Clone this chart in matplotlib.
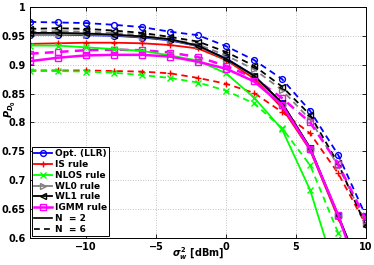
"""Detection probability versus noise power for several decision rules."""

import matplotlib

matplotlib.use("Agg")

import matplotlib.pyplot as plt
from matplotlib.lines import Line2D

noise_dbm = [-14, -12, -10, -8, -6, -4, -2, 0, 2, 4, 6, 8, 10]

# N = 6 (dashed)
opt_n6 = [0.974, 0.973, 0.972, 0.969, 0.965, 0.957, 0.951, 0.932, 0.908, 0.875, 0.820, 0.744, 0.637]
is_n6 = [0.890, 0.890, 0.890, 0.889, 0.888, 0.885, 0.877, 0.867, 0.851, 0.818, 0.781, 0.712, 0.622]
nlos_n6 = [0.889, 0.889, 0.888, 0.886, 0.882, 0.877, 0.869, 0.855, 0.833, 0.790, 0.726, 0.609, 0.480]
wl0_n6 = [0.957, 0.958, 0.957, 0.955, 0.951, 0.944, 0.935, 0.916, 0.892, 0.856, 0.805, 0.725, 0.625]
wl1_n6 = [0.962, 0.963, 0.962, 0.959, 0.955, 0.948, 0.940, 0.922, 0.898, 0.862, 0.813, 0.729, 0.620]
igmm_n6 = [0.919, 0.922, 0.925, 0.926, 0.925, 0.921, 0.913, 0.898, 0.877, 0.842, 0.800, 0.728, 0.631]

# N = 2 (solid)
opt_n2 = [0.952, 0.952, 0.951, 0.950, 0.947, 0.942, 0.932, 0.911, 0.881, 0.833, 0.755, 0.638, 0.520]
is_n2 = [0.936, 0.937, 0.938, 0.938, 0.937, 0.934, 0.928, 0.908, 0.876, 0.825, 0.752, 0.635, 0.520]
nlos_n2 = [0.933, 0.933, 0.930, 0.927, 0.924, 0.916, 0.907, 0.885, 0.843, 0.788, 0.683, 0.527, 0.450]
wl0_n2 = [0.953, 0.953, 0.952, 0.951, 0.948, 0.943, 0.932, 0.909, 0.880, 0.833, 0.755, 0.638, 0.520]
wl1_n2 = [0.955, 0.955, 0.954, 0.952, 0.949, 0.944, 0.933, 0.910, 0.881, 0.834, 0.756, 0.639, 0.520]
igmm_n2 = [0.906, 0.912, 0.916, 0.917, 0.917, 0.914, 0.905, 0.893, 0.871, 0.830, 0.754, 0.640, 0.500]

rule_labels = ["Opt. (LLR)", "IS rule", "NLOS rule", "WL0 rule", "WL1 rule", "IGMM rule"]
x_ticks = [-10, -5, 0, 5, 10]
y_ticks = [0.6, 0.65, 0.7, 0.75, 0.8, 0.85, 0.9, 0.95, 1.0]
y_tick_labels = ["0.6", "0.65", "0.7", "0.75", "0.8", "0.85", "0.9", "0.95", "1"]

styles = [
    ("#0000ff", "o", 1.3),
    ("#ff0000", "+", 1.3),
    ("#00ff00", "x", 1.3),
    ("#808080", ">", 1.3),
    ("#000000", "<", 1.3),
    ("#ff00ff", "s", 1.8),
]
dash = (0, (3.5, 2.5))
marker_size = 4.2

plt.rcParams["font.family"] = "DejaVu Sans"
plt.rcParams["font.weight"] = "bold"
plt.rcParams["axes.labelweight"] = "bold"
plt.rcParams["font.size"] = 7

fig = plt.figure(figsize=(3.74, 2.65), dpi=100)
ax = fig.add_axes([0.080, 0.102, 0.899, 0.872])

series_n6 = [opt_n6, is_n6, nlos_n6, wl0_n6, wl1_n6, igmm_n6]
series_n2 = [opt_n2, is_n2, nlos_n2, wl0_n2, wl1_n2, igmm_n2]

for values, (color, marker, width) in zip(series_n6, styles):
    ax.plot(noise_dbm, values, color=color, linestyle=dash, linewidth=width,
            marker=marker, markersize=marker_size, markerfacecolor="none",
            markeredgewidth=1.0)
for values, (color, marker, width) in zip(series_n2, styles):
    ax.plot(noise_dbm, values, color=color, linestyle="-", linewidth=width,
            marker=marker, markersize=marker_size, markerfacecolor="none",
            markeredgewidth=1.0)

ax.set_xlim(-14, 10)
ax.set_ylim(0.6, 1.0)
ax.set_xticks(x_ticks)
ax.set_xticklabels([str(v).replace("-", "\u2212") for v in x_ticks])
ax.set_yticks(y_ticks)
ax.set_yticklabels(y_tick_labels)
ax.tick_params(direction="in", length=3, width=0.6, top=True, right=True, pad=3)
ax.grid(True, linestyle=(0, (1, 2)), color="#b0b0b0", linewidth=0.6)
for spine in ax.spines.values():
    spine.set_linewidth(0.7)

ax.set_xlabel(r"$\sigma_w^2$ [dBm]", va="top")
ax.xaxis.set_label_coords(0.5, -0.03)
ax.set_ylabel(r"$P_{D_0}$")
ax.yaxis.set_label_coords(-0.035, 0.56)

handles = [
    Line2D([], [], color=color, marker=marker, markersize=marker_size,
           markerfacecolor="none", markeredgewidth=1.0, linewidth=width)
    for color, marker, width in styles
]
handles.append(Line2D([], [], color="black", linestyle="-", linewidth=1.2))
handles.append(Line2D([], [], color="black", linestyle=dash, linewidth=1.2))
labels = rule_labels + ["N  = 2", "N  = 6"]

leg = ax.legend(handles, labels, loc="lower left", fontsize=6.5, frameon=True,
                fancybox=False, framealpha=1, edgecolor="black",
                borderaxespad=0.2, handlelength=2.0, handletextpad=0.3,
                labelspacing=0.2, borderpad=0.25)
leg.get_frame().set_linewidth(0.7)

fig.savefig("out.png", dpi=100)
